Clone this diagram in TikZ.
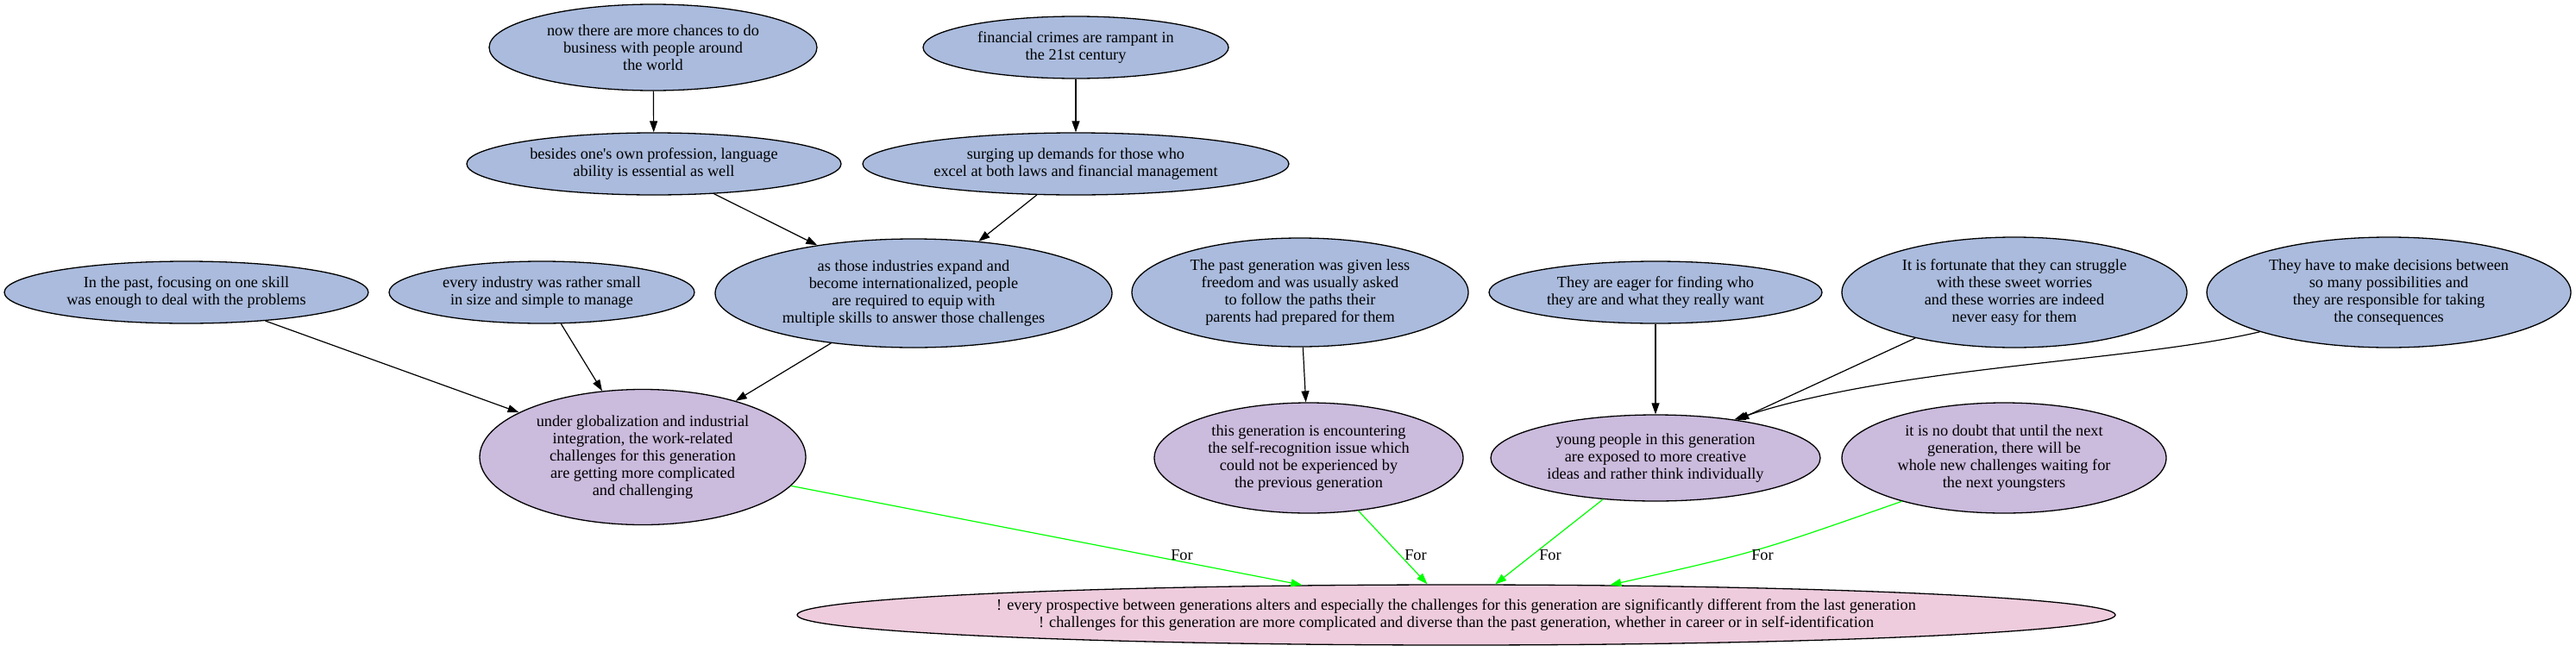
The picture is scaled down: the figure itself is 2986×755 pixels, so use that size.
\documentclass[tikz,border=0pt]{standalone}
\usepackage{fontspec}
\setmainfont{Liberation Serif}[Ligatures=TeXOff]
\usetikzlibrary{shapes.geometric,arrows.meta}
\definecolor{nblue}{RGB}{170,187,221}
\definecolor{npurple}{RGB}{203,187,221}
\definecolor{npink}{RGB}{238,204,221}
\definecolor{egreen}{RGB}{0,255,0}
\tikzset{
  base/.style={ellipse, draw=black, line width=1.3pt, inner sep=0pt, align=center,
    font=\fontsize{18.3pt}{20pt}\selectfont},
  bluenode/.style={base, fill=nblue},
  purplenode/.style={base, fill=npurple},
  pinknode/.style={base, fill=npink},
  edge/.style={draw=black, line width=1.2pt, -{Triangle[length=13pt,width=9pt]}},
  foredge/.style={draw=egreen, line width=1.2pt, -{Triangle[length=13pt,width=9pt]}},
  forlabel/.style={font=\fontsize{18.3pt}{20pt}\selectfont, inner sep=0pt}
}
\begin{document}
\begin{tikzpicture}[x=1pt,y=-1pt]
\useasboundingbox[fill=white] (0,0) rectangle (2986,755);
% top ranks
\node[bluenode, minimum width=380pt, minimum height=100pt] (A) at (757,55) {now there are more chances to do\\business with people around\\the world};
\node[bluenode, minimum width=354pt, minimum height=72pt] (F) at (1247,55) {financial crimes are rampant in\\the 21st century};
\node[bluenode, minimum width=434pt, minimum height=72pt] (B) at (758,190) {besides one's own profession, language\\ability is essential as well};
\node[bluenode, minimum width=494pt, minimum height=72pt] (G) at (1247,190) {surging up demands for those who\\excel at both laws and financial management};
% third rank
\node[bluenode, minimum width=422pt, minimum height=72pt] (C) at (216,339) {In the past, focusing on one skill\\was enough to deal with the problems};
\node[bluenode, minimum width=354pt, minimum height=72pt] (D) at (628,339) {every industry was rather small\\in size and simple to manage};
\node[bluenode, minimum width=460pt, minimum height=126pt] (E) at (1059,340) {as those industries expand and\\become internationalized, people\\are required to equip with\\multiple skills to answer those challenges};
\node[bluenode, minimum width=390pt, minimum height=126pt] (H) at (1507,339) {The past generation was given less\\freedom and was usually asked\\to follow the paths their\\parents had prepared for them};
\node[bluenode, minimum width=386pt, minimum height=72pt] (I) at (1919,339) {They are eager for finding who\\they are and what they really want};
\node[bluenode, minimum width=400pt, minimum height=128pt] (J) at (2335,339) {It is fortunate that they can struggle\\with these sweet worries\\and these worries are indeed\\never easy for them};
\node[bluenode, minimum width=422pt, minimum height=128pt] (K) at (2769,339) {They have to make decisions between\\so many possibilities and\\they are responsible for taking\\the consequences};
% fourth rank
\node[purplenode, minimum width=378pt, minimum height=157pt] (L) at (745,530) {under globalization and industrial\\integration, the work-related\\challenges for this generation\\are getting more complicated\\and challenging};
\node[purplenode, minimum width=358pt, minimum height=128pt] (M) at (1517,531) {this generation is encountering\\the self-recognition issue which\\could not be experienced by\\the previous generation};
\node[purplenode, minimum width=382pt, minimum height=100pt] (N) at (1919,531) {young people in this generation\\are exposed to more creative\\ideas and rather think individually};
\node[purplenode, minimum width=376pt, minimum height=128pt] (O) at (2323,531) {it is no doubt that until the next\\generation, there will be\\whole new challenges waiting for\\the next youngsters};
% bottom
\node[pinknode, minimum width=1528pt, minimum height=70pt] (P) at (1688,713) {! every prospective between generations alters and especially the challenges for this generation are significantly different from the last generation\\! challenges for this generation are more complicated and diverse than the past generation, whether in career or in self-identification};
% black edges
\draw[edge] (A) -- (B);
\draw[edge] (F) -- (G);
\draw[edge] (B) -- (E);
\draw[edge] (G) -- (E);
\draw[edge] (C) -- (L);
\draw[edge] (D) -- (L);
\draw[edge] (E) -- (L);
\draw[edge] (H) -- (M);
\draw[edge] (I) -- (N);
\draw[edge] (J) -- (N);
\coordinate (kc1) at (2470,420);
\coordinate (kc2) at (2200,424);
\draw[edge] (K.197) .. controls (kc1) and (kc2) .. (N.26);
% green edges
\draw[foredge] (L) -- (P);
\draw[foredge] (M) -- (P);
\draw[foredge] (N) -- (P);
\coordinate (oc) at (2037,640);
\draw[foredge] (O.203) .. controls (oc) .. (P.11);
% labels
\node[forlabel] (f1) at (1370,644) {For};
\node[forlabel] (f2) at (1641,644) {For};
\node[forlabel] (f3) at (1797,644) {For};
\node[forlabel] (f4) at (2043,644) {For};
\end{tikzpicture}
\end{document}
